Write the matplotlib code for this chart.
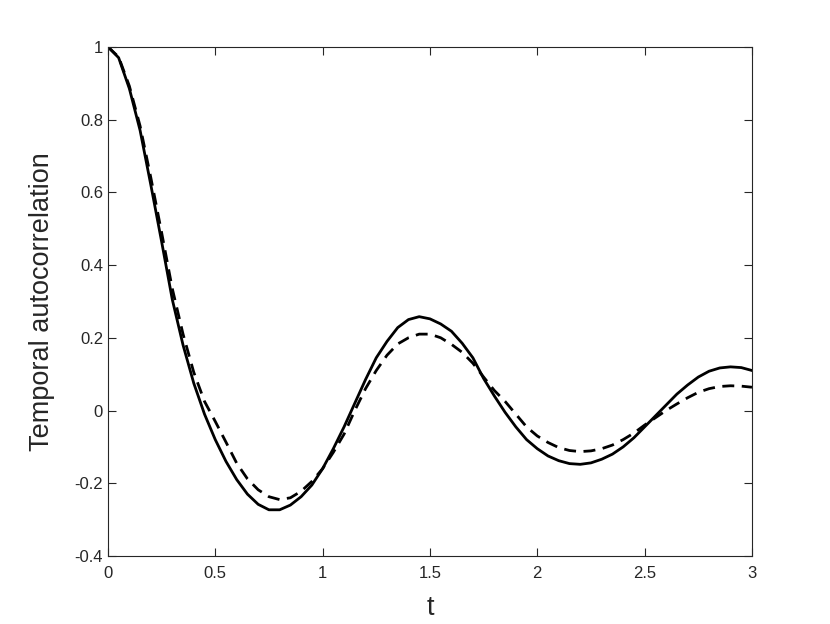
import matplotlib
matplotlib.use("Agg")
import matplotlib.pyplot as plt
from matplotlib.ticker import FuncFormatter

plt.rcParams['font.family'] = ['Liberation Sans', 'DejaVu Sans']

# values
t = [0.00, 0.05, 0.10, 0.15, 0.20, 0.25, 0.30, 0.35, 0.40, 0.45,
     0.50, 0.55, 0.60, 0.65, 0.70, 0.75, 0.80, 0.85, 0.90, 0.95,
     1.00, 1.05, 1.10, 1.15, 1.20, 1.25, 1.30, 1.35, 1.40, 1.45,
     1.50, 1.55, 1.60, 1.65, 1.70, 1.75, 1.80, 1.85, 1.90, 1.95,
     2.00, 2.05, 2.10, 2.15, 2.20, 2.25, 2.30, 2.35, 2.40, 2.45,
     2.50, 2.55, 2.60, 2.65, 2.70, 2.75, 2.80, 2.85, 2.90, 2.95, 3.00]

solid = [1.000, 0.970, 0.885, 0.770, 0.620, 0.465, 0.305, 0.180, 0.075, -0.010,
         -0.080, -0.140, -0.190, -0.230, -0.258, -0.273, -0.273, -0.260, -0.237, -0.205,
         -0.160, -0.105, -0.045, 0.020, 0.085, 0.145, 0.190, 0.228, 0.250, 0.258,
         0.252, 0.238, 0.218, 0.185, 0.145, 0.088, 0.040, -0.005, -0.045, -0.080,
         -0.105, -0.125, -0.138, -0.146, -0.148, -0.144, -0.134, -0.120, -0.100, -0.075,
         -0.045, -0.015, 0.015, 0.045, 0.070, 0.092, 0.108, 0.117, 0.120, 0.118, 0.110]

dashed = [1.000, 0.972, 0.892, 0.782, 0.640, 0.490, 0.335, 0.210, 0.105, 0.025,
          -0.030, -0.087, -0.145, -0.188, -0.218, -0.237, -0.245, -0.240, -0.222, -0.195,
          -0.160, -0.115, -0.065, 0.000, 0.060, 0.110, 0.152, 0.183, 0.200, 0.210,
          0.210, 0.200, 0.182, 0.160, 0.130, 0.092, 0.055, 0.025, -0.010, -0.045,
          -0.070, -0.088, -0.102, -0.110, -0.113, -0.111, -0.105, -0.095, -0.080, -0.062,
          -0.040, -0.020, 0.000, 0.018, 0.035, 0.050, 0.060, 0.066, 0.068, 0.067, 0.064]

xticks = [0, 0.5, 1, 1.5, 2, 2.5, 3]
yticks = [-0.4, -0.2, 0, 0.2, 0.4, 0.6, 0.8, 1]

fig = plt.figure(figsize=(8.3, 6.24), dpi=100)
ax = fig.add_axes([0.13, 0.109, 0.776, 0.816])

ax.plot(t, solid, color='black', lw=2.0, solid_joinstyle='round')
ax.plot(t, dashed, color='black', lw=2.0, linestyle=(0, (4.3, 2.7)))

ax.set_xlim(0, 3)
ax.set_ylim(-0.4, 1)
ax.set_xticks(xticks)
ax.set_yticks(yticks)
fmt = FuncFormatter(lambda v, p: ('%g' % v).replace('\u2212', '-'))
ax.xaxis.set_major_formatter(fmt)
ax.yaxis.set_major_formatter(fmt)

gray = '#262626'
for s in ax.spines.values():
    s.set_color(gray)
    s.set_linewidth(0.8)
ax.tick_params(direction='in', top=True, right=True, length=6, width=0.8,
               colors=gray, labelsize=12, labelcolor=gray)
ax.tick_params(axis='x', pad=7)

ax.set_xlabel('t', fontsize=19.5, color=gray, labelpad=10)
ax.set_ylabel('Temporal autocorrelation', fontsize=19.5, color=gray, labelpad=14)

fig.savefig('out.png', dpi=100)
